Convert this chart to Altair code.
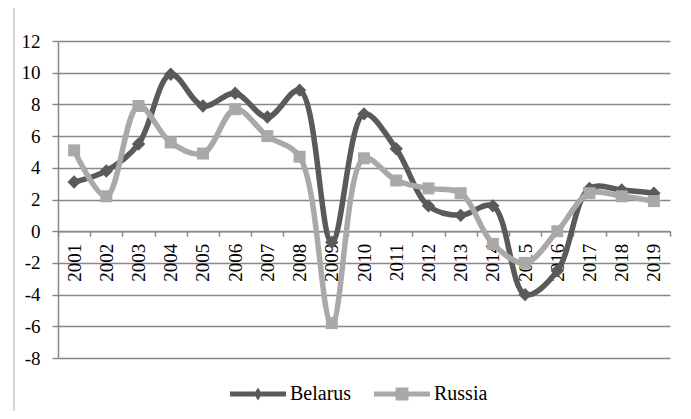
import altair as alt
import pandas as pd

years = [str(y) for y in range(2001, 2020)]
belarus = [3.1, 3.8, 5.5, 9.9, 7.9, 8.7, 7.2, 8.9, -0.7, 7.4, 5.2, 1.6, 1.0, 1.6, -4.0, -2.5, 2.7, 2.6, 2.4]
russia = [5.1, 2.2, 7.9, 5.6, 4.9, 7.7, 6.0, 4.7, -5.8, 4.6, 3.2, 2.7, 2.4, -0.8, -2.0, 0.0, 2.4, 2.2, 1.9]
countries = ["Belarus", "Russia"]
y_ticks = list(range(-8, 13, 2))

colors = ["#5a5a5a", "#a9a9a9"]
FONT = "Times New Roman"
GRID = "#888888"

W, H = 612, 317

rows = []
for c, vals in zip(countries, [belarus, russia]):
    for yr, v in zip(years, vals):
        rows.append({"year": yr, "country": c, "value": v})
df = pd.DataFrame(rows)

x_enc = alt.X(
    "year:O",
    sort=years,
    scale=alt.Scale(type="band", paddingInner=0, paddingOuter=0),
    axis=alt.Axis(
        title=None, labelAngle=270, tickBand="extent", tickSize=5, tickColor=GRID,
        tickWidth=1.5, domainColor=GRID, domainWidth=1.5, labelFont=FONT,
        labelFontSize=19, labelColor="black", labelPadding=7,
        offset=-H * 8 / 20, grid=False,
    ),
)
y_enc = alt.Y(
    "value:Q",
    scale=alt.Scale(domain=[-8, 12], nice=False, zero=False),
    axis=alt.Axis(
        title=None, values=y_ticks, grid=True, gridColor=GRID, gridWidth=1.5,
        domainColor=GRID, domainWidth=1.5, tickColor=GRID, tickWidth=1.5, tickSize=6,
        labelFont=FONT, labelFontSize=19, labelColor="black", labelPadding=12,
        labelExpr="datum.value + ''",
    ),
)
color_enc = alt.Color("country:N", scale=alt.Scale(domain=countries, range=colors), legend=None)

base = alt.Chart(df)

lines = base.mark_line(strokeWidth=5.5, interpolate="catmull-rom", strokeCap="round").encode(
    x=x_enc, y=y_enc, color=color_enc
)

points = base.mark_point(filled=True, opacity=1, strokeWidth=0).encode(
    x=x_enc, y=y_enc, color=color_enc,
    shape=alt.Shape("country:N", scale=alt.Scale(domain=countries, range=["diamond", "square"]), legend=None),
    size=alt.Size("country:N", scale=alt.Scale(domain=countries, range=[180, 144]), legend=None),
)

leg_paths = [
    "M-1,-0.09L1,-0.09L1,0.09L-1,0.09Z M0,-0.23L0.14,0L0,0.23L-0.14,0Z",
    "M-1,-0.09L1,-0.09L1,0.09L-1,0.09Z M-0.23,-0.23L0.23,-0.23L0.23,0.23L-0.23,0.23Z",
]
legend = alt.Legend(
    title=None, orient="none", legendX=172, legendY=325, direction="horizontal",
    symbolSize=3136, labelFont=FONT, labelFontSize=20, labelColor="black",
    labelOffset=4, columnPadding=22, symbolStrokeWidth=0,
)
leg_layer = base.transform_filter("datum.value > 1000").mark_point(filled=True, opacity=1).encode(
    x=x_enc, y=y_enc,
    color=alt.Color("country:N", scale=alt.Scale(domain=countries, range=colors), legend=legend),
    shape=alt.Shape("country:N", scale=alt.Scale(domain=countries, range=leg_paths), legend=legend),
)

border = alt.Chart(alt.Data(values=[{"a": 1}])).mark_rect(
    fill="transparent", stroke="#c8c8c8", strokeWidth=1.5
).encode(x=alt.value(-44), x2=alt.value(627), y=alt.value(-34), y2=alt.value(380))

chart = alt.layer(border, lines, points, leg_layer).resolve_scale(
    color="independent", shape="independent"
).properties(
    width=W, height=H,
    autosize=alt.AutoSizeParams(type="none"),
    padding={"left": 50, "top": 33, "right": 13, "bottom": 53},
).configure(font=FONT).configure_axis(labelFont=FONT).configure_legend(labelFont=FONT).configure_view(
    stroke="transparent"
)

chart.save("out.html", embed_options={"renderer": "svg", "actions": False})
